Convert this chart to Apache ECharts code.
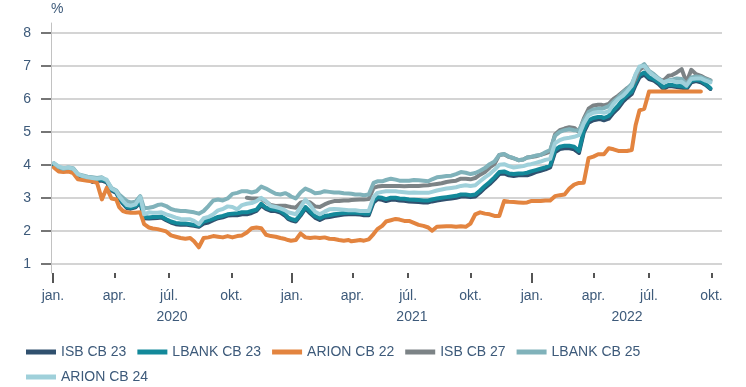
<!DOCTYPE html>
<html>
<head>
<meta charset="utf-8">
<script src="https://cdn.jsdelivr.net/npm/echarts@6/dist/echarts.min.js"></script>
<style>
  html, body { margin: 0; padding: 0; background: #ffffff; }
  #chart { width: 746px; height: 387px; }
</style>
</head>
<body>
<div id="chart"></div>
<script>
// Weekly yields (%), Fridays from 2020-01-03 onwards
const firstWeek = '2020-01-03';

const isb23 = [
  3.98, 3.9, 3.86, 3.88, 3.84, 3.68, 3.62, 3.58, 3.48, 3.52,
  3.52, 3.47, 3.22, 3.15, 2.97, 2.82, 2.69, 2.67, 2.71, 2.86,
  2.38, 2.37, 2.38, 2.39, 2.4, 2.32, 2.25, 2.2, 2.18, 2.19,
  2.17, 2.15, 2.12, 2.22, 2.25, 2.32, 2.38, 2.41, 2.46, 2.47,
  2.47, 2.5, 2.5, 2.54, 2.6, 2.77, 2.66, 2.6, 2.6, 2.55,
  2.45, 2.36, 2.32, 2.28, 2.46, 2.68, 2.53, 2.4, 2.33, 2.4,
  2.42, 2.45, 2.47, 2.49, 2.5, 2.5, 2.5, 2.49, 2.47, 2.47,
  2.86, 2.96, 2.94, 2.9, 2.94, 2.94, 2.92, 2.91, 2.89, 2.88,
  2.87, 2.86, 2.86, 2.89, 2.92, 2.94, 2.96, 2.98, 3.0, 3.04,
  3.04, 3.02, 3.04, 3.16, 3.3, 3.42, 3.56, 3.72, 3.74, 3.68,
  3.66, 3.68, 3.68, 3.68, 3.72, 3.78, 3.82, 3.86, 3.92, 4.38,
  4.48, 4.5, 4.5, 4.47, 4.36, 4.98, 5.28, 5.35, 5.38, 5.38,
  5.35, 5.4, 5.58, 5.72, 5.92, 6.03, 6.15, 6.42, 6.65, 6.74,
  6.6, 6.55, 6.45, 6.3, 6.38, 6.38, 6.36, 6.34, 6.3, 6.5,
  6.54, 6.5, 6.42, 6.3
];

const lbank23 = [
  4.0, 3.92, 3.88, 3.9, 3.86, 3.7, 3.64, 3.6, 3.56, 3.56,
  3.55, 3.5, 3.25, 3.18, 3.0, 2.85, 2.72, 2.7, 2.74, 2.9,
  2.42, 2.4, 2.42, 2.42, 2.43, 2.35, 2.28, 2.24, 2.22, 2.22,
  2.2, 2.18, 2.15, 2.28, 2.32, 2.36, 2.42, 2.45, 2.5, 2.52,
  2.53, 2.56, 2.56, 2.6, 2.64, 2.82, 2.7, 2.65, 2.64, 2.6,
  2.5, 2.4, 2.36, 2.32, 2.5, 2.72, 2.58, 2.45, 2.38, 2.45,
  2.47, 2.5, 2.52, 2.54, 2.55, 2.55, 2.55, 2.54, 2.52, 2.52,
  2.92, 3.02, 3.0, 2.96, 3.0, 3.0, 2.98, 2.97, 2.95, 2.94,
  2.93, 2.92, 2.92, 2.95, 2.98, 3.0, 3.02, 3.04, 3.06, 3.1,
  3.1, 3.08, 3.1, 3.22, 3.36, 3.48, 3.62, 3.78, 3.8, 3.74,
  3.72, 3.74, 3.74, 3.76, 3.8, 3.84, 3.88, 3.92, 3.98, 4.45,
  4.55, 4.58, 4.58, 4.55, 4.42, 5.05, 5.35, 5.42, 5.45, 5.45,
  5.42, 5.48, 5.65, 5.8, 6.0, 6.1, 6.22, 6.5, 6.72, 6.8,
  6.65, 6.6, 6.5, 6.35, 6.42, 6.42, 6.4, 6.38, 6.35, 6.55,
  6.58, 6.55, 6.45, 6.32
];

const arion22 = [
  3.92, 3.8, 3.78, 3.8, 3.75, 3.56, 3.54, 3.52, 3.5, 3.45,
  2.95, 3.3, 2.98, 2.95, 2.72, 2.6, 2.56, 2.55, 2.55, 2.56,
  2.2, 2.1, 2.07, 2.05, 2.02, 1.98, 1.86, 1.82, 1.78, 1.76,
  1.78, 1.68, 1.5, 1.78, 1.8, 1.84, 1.82, 1.8, 1.84, 1.8,
  1.84, 1.86, 1.95, 2.08, 2.1, 2.08, 1.88, 1.84, 1.82, 1.78,
  1.75, 1.72, 1.7, 1.72, 1.92, 1.8, 1.78, 1.8, 1.78, 1.8,
  1.76, 1.75, 1.72, 1.7, 1.72, 1.68, 1.7, 1.72, 1.7, 1.74,
  1.9, 2.05, 2.15, 2.28, 2.32, 2.36, 2.34, 2.3, 2.3, 2.24,
  2.18, 2.15, 2.1, 2.0, 2.12, 2.13, 2.14, 2.14, 2.12, 2.14,
  2.12, 2.22, 2.5, 2.56, 2.52, 2.5, 2.45, 2.45, 2.9, 2.88,
  2.87, 2.86, 2.85, 2.86, 2.9, 2.9, 2.9, 2.92, 2.92, 3.05,
  3.08, 3.1, 3.28, 3.4, 3.45, 3.46, 4.2, 4.25, 4.32, 4.32,
  4.32, 4.5, 4.47, 4.42, 4.42, 4.42, 4.45, 5.2, 5.65, 5.7,
  6.22, 6.22, 6.22, 6.22, 6.22, 6.22, 6.22, 6.22, 6.22, 6.22,
  6.22, 6.22
];

// ISB CB 27 is quoted from week 42 (late October 2020)
const isb27FirstWeek = 42;
const isb27 = [
  3.0, 2.98, 2.98, 2.97, 2.88, 2.78, 2.75, 2.76,
  2.76, 2.74, 2.72, 2.7, 2.85, 2.9, 2.86, 2.74, 2.72, 2.8,
  2.86, 2.9, 2.9, 2.92, 2.92, 2.93, 2.94, 2.95, 2.95, 2.96,
  3.3, 3.34, 3.36, 3.36, 3.36, 3.36, 3.36, 3.35, 3.36, 3.36,
  3.36, 3.37, 3.38, 3.4, 3.42, 3.44, 3.48, 3.5, 3.52, 3.58,
  3.58, 3.56, 3.6, 3.7, 3.78, 3.92, 4.02, 4.3, 4.32, 4.24,
  4.2, 4.14, 4.16, 4.22, 4.24, 4.26, 4.3, 4.35, 4.4, 4.92,
  5.05, 5.1, 5.14, 5.12, 5.0, 5.4, 5.7, 5.8, 5.82, 5.82,
  5.8, 5.85, 6.0, 6.1, 6.22, 6.32, 6.4, 6.6, 6.88, 6.98,
  6.82, 6.72, 6.6, 6.55, 6.7, 6.72, 6.8, 6.9, 6.5, 6.88,
  6.75, 6.7, 6.62, 6.56
];

const lbank25 = [
  4.05, 3.93, 3.88, 3.92, 3.9, 3.72, 3.68, 3.64, 3.62, 3.6,
  3.62, 3.52, 3.3, 3.22, 3.1, 3.0, 2.9, 2.86, 2.88, 3.05,
  2.68, 2.7, 2.72, 2.78, 2.8, 2.75, 2.66, 2.62, 2.6, 2.6,
  2.58, 2.56, 2.52, 2.6, 2.75, 2.92, 2.95, 2.92, 2.98, 3.12,
  3.15, 3.2, 3.2, 3.16, 3.2, 3.34, 3.28, 3.2, 3.12, 3.1,
  3.14, 3.1, 3.04, 2.98, 3.16, 3.28, 3.22, 3.14, 3.15, 3.2,
  3.18, 3.16, 3.16, 3.14, 3.13, 3.12, 3.1, 3.1, 3.08, 3.1,
  3.45, 3.5, 3.5, 3.54, 3.58, 3.55, 3.52, 3.52, 3.52, 3.54,
  3.53, 3.52, 3.5, 3.56, 3.62, 3.64, 3.66, 3.67, 3.72, 3.78,
  3.76, 3.72, 3.75, 3.82, 3.9, 4.02, 4.1, 4.3, 4.33, 4.25,
  4.2, 4.14, 4.16, 4.22, 4.24, 4.28, 4.3, 4.38, 4.45, 4.88,
  5.0, 5.05, 5.08, 5.05, 5.04, 5.35, 5.6, 5.68, 5.7, 5.7,
  5.72, 5.78, 5.92, 6.05, 6.2, 6.3, 6.45, 6.72, 6.95, 7.05,
  6.85, 6.75, 6.62, 6.5, 6.56, 6.58, 6.62, 6.6, 6.45, 6.65,
  6.68, 6.66, 6.6, 6.55
];

const arion24 = [
  4.05, 3.95, 3.9, 3.92, 3.88, 3.72, 3.66, 3.62, 3.6, 3.58,
  3.6, 3.55, 3.28, 3.2, 3.05, 2.9, 2.78, 2.76, 2.8, 3.02,
  2.5, 2.56, 2.55, 2.55, 2.56, 2.5, 2.45, 2.4, 2.36, 2.35,
  2.35, 2.3, 2.2, 2.38, 2.42, 2.5, 2.62, 2.66, 2.74, 2.72,
  2.65, 2.78, 2.82, 2.84, 2.9, 3.0, 2.9, 2.75, 2.72, 2.68,
  2.62, 2.56, 2.54, 2.5, 2.72, 2.95, 2.78, 2.58, 2.5, 2.58,
  2.65, 2.66, 2.65, 2.64, 2.62, 2.62, 2.62, 2.6, 2.6, 2.6,
  3.02, 3.15, 3.18, 3.2, 3.2, 3.2, 3.18, 3.17, 3.15, 3.16,
  3.15, 3.15, 3.15, 3.18, 3.22, 3.25, 3.28, 3.3, 3.32, 3.36,
  3.38, 3.36, 3.38, 3.5, 3.62, 3.72, 3.85, 4.0, 4.02, 3.96,
  3.92, 3.94, 3.96, 4.0, 4.02, 4.06, 4.1, 4.15, 4.18, 4.65,
  4.75, 4.8, 4.82, 4.85, 4.9, 5.25, 5.5, 5.58, 5.6, 5.6,
  5.58, 5.62, 5.85, 6.0, 6.1, 6.22, 6.4, 6.75, 6.98, 7.0,
  6.82, 6.7, 6.6, 6.5, 6.55, 6.55, 6.5, 6.52, 6.4, 6.6,
  6.62, 6.62, 6.55, 6.5
];

const seriesNames = ['ISB CB 23', 'LBANK CB 23', 'ARION CB 22', 'ISB CB 27', 'LBANK CB 25', 'ARION CB 24'];
const seriesColors = ['#30506e', '#13899a', '#e3843f', '#7c8386', '#80b2ba', '#9fd0da'];

const yTicks = [1, 2, 3, 4, 5, 6, 7, 8];
const monthNames = { 0: 'jan.', 3: 'apr.', 6: 'júl.', 9: 'okt.' };

// Exchange closing days; the x axis runs over trading days only
const holidays = [
  '2019-12-31', '2020-01-01', '2020-04-09', '2020-04-10', '2020-04-13', '2020-04-23',
  '2020-05-01', '2020-05-21', '2020-06-01', '2020-06-17', '2020-08-03', '2020-12-24',
  '2020-12-25', '2020-12-31', '2021-01-01', '2021-04-01', '2021-04-02', '2021-04-05',
  '2021-04-22', '2021-05-13', '2021-05-24', '2021-06-17', '2021-08-02', '2021-12-24',
  '2021-12-31', '2022-04-14', '2022-04-15', '2022-04-18', '2022-04-21', '2022-05-26',
  '2022-06-06', '2022-06-17', '2022-08-01'
];
const axisStart = '2019-12-27';
const axisEnd = '2022-10-18';

const DAY = 86400000;
const ymd = t => new Date(t).toISOString().slice(0, 10);
const parseDay = s => Date.UTC(+s.slice(0, 4), +s.slice(5, 7) - 1, +s.slice(8, 10));

const tradingDays = [];
for (let t = parseDay(axisStart); t <= parseDay(axisEnd); t += DAY) {
  const wd = new Date(t).getUTCDay();
  const s = ymd(t);
  if (wd !== 0 && wd !== 6 && holidays.indexOf(s) < 0) tradingDays.push(s);
}
const dayIndex = new Map(tradingDays.map((s, i) => [s, i]));

// Position of week w on the trading-day axis (last trading day of that week)
function weekIndex(w) {
  let t = parseDay(firstWeek) + w * 7 * DAY;
  while (!dayIndex.has(ymd(t))) t -= DAY;
  return dayIndex.get(ymd(t));
}
const toPoints = (vals, startWeek) => vals.map((v, i) => [weekIndex(i + startWeek), v]);

const quarterStarts = new Set();
const yearStarts = new Set();
const yearMids = new Set();
const byYear = {};
tradingDays.forEach((s, i) => {
  const m = +s.slice(5, 7) - 1;
  const prevM = i > 0 ? +tradingDays[i - 1].slice(5, 7) - 1 : -1;
  if (m !== prevM && monthNames[m] !== undefined && i > 0) {
    quarterStarts.add(i);
    if (m === 0) yearStarts.add(i);
  }
  const y = s.slice(0, 4);
  (byYear[y] = byYear[y] || []).push(i);
});
['2020', '2021', '2022'].forEach(y => {
  const idx = byYear[y];
  yearMids.add(idx[Math.floor(idx.length / 2)]);
});

const textColor = '#3d5a7a';
const fontFamily = '"Liberation Sans", Arial, sans-serif';

const chart = echarts.init(document.getElementById('chart'), null, { renderer: 'canvas' });

const dataSets = [
  toPoints(isb23, 0),
  toPoints(lbank23, 0),
  toPoints(arion22, 0),
  toPoints(isb27, isb27FirstWeek),
  toPoints(lbank25, 0),
  toPoints(arion24, 0)
];

chart.setOption({
  animation: false,
  textStyle: { fontFamily: fontFamily },
  grid: { left: 51, right: 24, top: 23, bottom: 114, containLabel: false },
  legend: {
    data: seriesNames,
    left: 26,
    top: 345,
    width: 680,
    padding: 0,
    itemGap: 11,
    itemWidth: 30,
    itemHeight: 5,
    icon: 'rect',
    textStyle: { color: textColor, fontSize: 14, fontFamily: fontFamily }
  },
  xAxis: [
    {
      type: 'category',
      data: tradingDays,
      boundaryGap: false,
      axisLine: { show: false },
      axisTick: {
        show: true,
        length: 5,
        interval: (i) => quarterStarts.has(i),
        lineStyle: { color: '#555555', width: 2 }
      },
      axisLabel: {
        interval: (i) => quarterStarts.has(i),
        formatter: (v) => monthNames[+v.slice(5, 7) - 1] || '',
        color: textColor,
        fontSize: 14,
        margin: 16
      },
      splitLine: { show: false }
    },
    {
      type: 'category',
      data: tradingDays,
      boundaryGap: false,
      position: 'bottom',
      axisLine: { show: false },
      axisTick: {
        show: true,
        length: 10,
        interval: (i) => yearStarts.has(i),
        lineStyle: { color: '#555555', width: 2 }
      },
      axisLabel: {
        interval: (i) => yearMids.has(i),
        formatter: (v) => v.slice(0, 4),
        color: textColor,
        fontSize: 14,
        margin: 37
      },
      splitLine: { show: false }
    }
  ],
  yAxis: {
    type: 'value',
    min: 0.72,
    max: 8.3,
    name: '%',
    nameLocation: 'end',
    nameGap: 7,
    nameTextStyle: { color: textColor, fontSize: 14, align: 'left', verticalAlign: 'bottom' },
    axisLine: { show: true, lineStyle: { color: '#c2c2c2', width: 1 } },
    axisTick: { show: true, customValues: yTicks, length: 10, lineStyle: { color: '#4a4a4a', width: 1.5 } },
    axisLabel: { customValues: yTicks, color: textColor, fontSize: 14, margin: 20 },
    splitLine: { show: true, lineStyle: { color: '#d4d4d4', width: 2 } }
  },
  series: seriesNames.map((name, k) => ({
    name: name,
    type: 'line',
    xAxisIndex: 0,
    data: dataSets[k],
    showSymbol: false,
    symbol: 'none',
    color: seriesColors[k],
    lineStyle: { width: 4, color: seriesColors[k], join: 'round', cap: 'round' },
    z: 2 + k
  }))
});
</script>
</body>
</html>
